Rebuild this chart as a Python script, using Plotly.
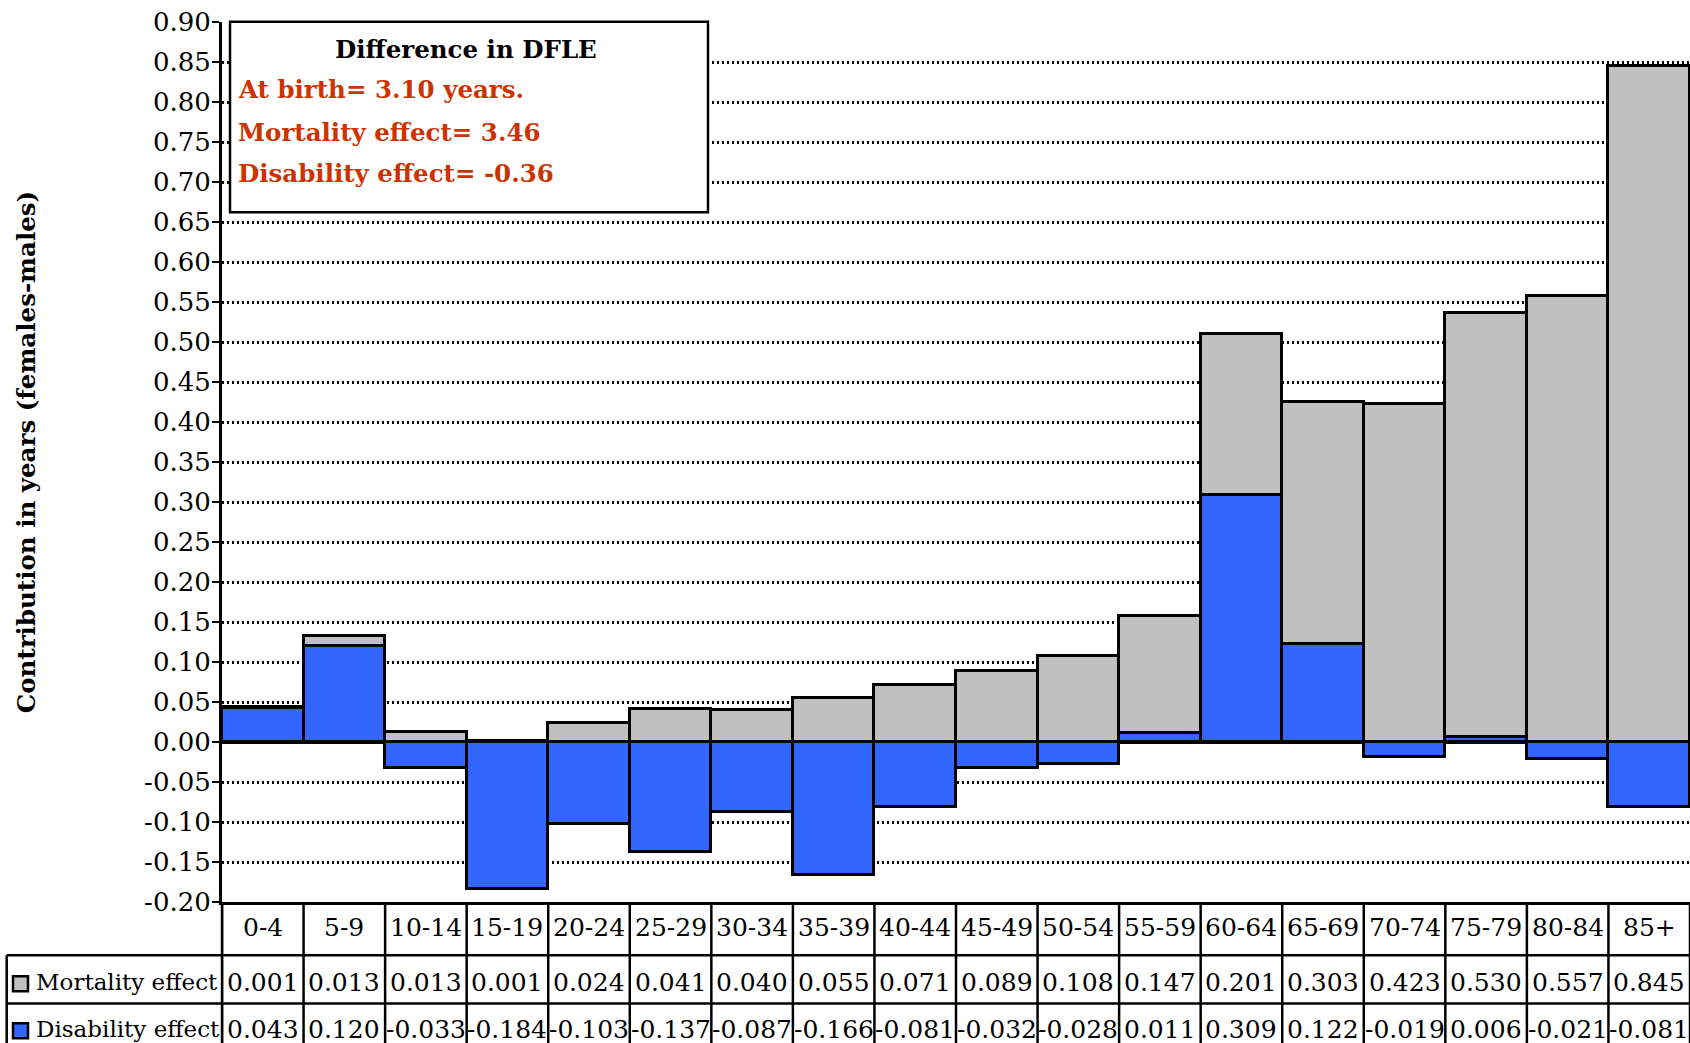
import plotly.graph_objects as go

# Age groups and decomposition of the female-male gap in DFLE (years)
age_groups = ["0-4", "5-9", "10-14", "15-19", "20-24", "25-29", "30-34", "35-39",
              "40-44", "45-49", "50-54", "55-59", "60-64", "65-69", "70-74",
              "75-79", "80-84", "85+"]
mortality_effect = [0.001, 0.013, 0.013, 0.001, 0.024, 0.041, 0.040, 0.055, 0.071,
                    0.089, 0.108, 0.147, 0.201, 0.303, 0.423, 0.530, 0.557, 0.845]
disability_effect = [0.043, 0.120, -0.033, -0.184, -0.103, -0.137, -0.087, -0.166,
                     -0.081, -0.032, -0.028, 0.011, 0.309, 0.122, -0.019, 0.006,
                     -0.021, -0.081]

series_names = ["Mortality effect", "Disability effect"]
y_tick_values = [-0.20, -0.15, -0.10, -0.05, 0.00, 0.05, 0.10, 0.15, 0.20, 0.25,
                 0.30, 0.35, 0.40, 0.45, 0.50, 0.55, 0.60, 0.65, 0.70, 0.75,
                 0.80, 0.85, 0.90]
y_tick_labels = [f"{v:.2f}" for v in y_tick_values]

box_title = "Difference in DFLE"
box_lines = ["At birth= 3.10 years.", "Mortality effect= 3.46", "Disability effect= -0.36"]

GRAY = "#C0C0C0"
BLUE = "#3366FF"
RED = "#CC3300"
SERIF = "DejaVu Serif"

W, H = 1690, 1043
ML, MR, MT, MB = 222, 0, 21.7, 141.3
PW = W - ML - MR
PH = H - MT - MB


def px(x):
    """page pixel column -> paper x"""
    return (x - ML) / PW


def py(y):
    """page pixel row -> paper y"""
    return (H - MB - y) / PH


fig = go.Figure()
# disability first so it sits next to the zero line in relative stacking
fig.add_trace(go.Bar(x=age_groups, y=disability_effect, name=series_names[1],
                     marker=dict(color=BLUE, line=dict(color="black", width=3))))
fig.add_trace(go.Bar(x=age_groups, y=mortality_effect, name=series_names[0],
                     marker=dict(color=GRAY, line=dict(color="black", width=3))))

shapes = []
annotations = []

# ---- data table under the plot ----
ROW1_TOP, ROW2_TOP, ROW3_TOP, TABLE_BOTTOM = 901.7, 955, 1003.3, 1043
TABLE_LEFT = 6.7
line_style = dict(color="black", width=2.5)

for i in range(len(age_groups) + 1):
    shapes.append(dict(type="line", xref="x", yref="paper",
                       x0=i - 0.5, x1=i - 0.5, y0=py(ROW1_TOP), y1=py(TABLE_BOTTOM),
                       line=line_style))
for yy in (ROW2_TOP, ROW3_TOP):
    shapes.append(dict(type="line", xref="paper", yref="paper",
                       x0=px(TABLE_LEFT), x1=1, y0=py(yy), y1=py(yy), line=line_style))
shapes.append(dict(type="line", xref="paper", yref="paper",
                   x0=px(TABLE_LEFT), x1=px(TABLE_LEFT), y0=py(ROW2_TOP), y1=py(TABLE_BOTTOM),
                   line=line_style))
shapes.append(dict(type="line", xref="paper", yref="paper",
                   x0=0, x1=0, y0=py(ROW1_TOP), y1=py(TABLE_BOTTOM), line=line_style))

row_centers = [927, 982, 1029]
value_font = dict(family=SERIF, size=25, color="black")
label_font = dict(family=SERIF, size=23, color="black")


def cell(x, y, text, font, xref="x", xanchor="center"):
    return dict(x=x, y=y, xref=xref, yref="paper", xanchor=xanchor, yanchor="middle",
                text=text, showarrow=False, font=font)


for cat in age_groups:
    annotations.append(cell(cat, py(row_centers[0]), cat, value_font))
for cat, m, d in zip(age_groups, mortality_effect, disability_effect):
    annotations.append(cell(cat, py(row_centers[1]), f"{m:.3f}", value_font))
    annotations.append(cell(cat, py(row_centers[2]), f"{d:.3f}", value_font))

for name, color, yc in ((series_names[0], GRAY, row_centers[1]),
                        (series_names[1], BLUE, row_centers[2])):
    shapes.append(dict(type="rect", xref="paper", yref="paper",
                       x0=px(13), x1=px(28), y0=py(yc - 6), y1=py(yc + 9),
                       fillcolor=color, line=dict(color="black", width=2.5)))
    annotations.append(cell(px(34), py(yc), name, label_font, xref="paper", xanchor="left"))

# ---- summary box ----
shapes.append(dict(type="rect", xref="paper", yref="paper",
                   x0=px(230), x1=px(708), y0=py(21.5), y1=py(212),
                   fillcolor="white", line=dict(color="black", width=2.5), layer="above"))
annotations.append(dict(x=px(466), y=py(49), xref="paper", yref="paper",
                        xanchor="center", yanchor="middle",
                        text=f"<b>{box_title}</b>", showarrow=False,
                        font=dict(family=SERIF, size=24.5, color="black")))
for txt, yc in zip(box_lines, (89, 132, 173)):
    annotations.append(dict(x=px(236), y=py(yc), xref="paper", yref="paper",
                            xanchor="left", yanchor="middle",
                            text=f"<b>{txt}</b>", showarrow=False,
                            font=dict(family=SERIF, size=24.5, color=RED)))

# ---- y-axis title ----
annotations.append(dict(x=px(26), y=py(452), xref="paper", yref="paper",
                        xanchor="center", yanchor="middle",
                        text="<b>Contribution in years (females-males)</b>",
                        textangle=-90, showarrow=False,
                        font=dict(family=SERIF, size=24.5, color="black")))

fig.update_layout(
    width=W, height=H,
    margin=dict(l=ML, r=MR, t=MT, b=MB, pad=0),
    barmode="relative", bargap=0,
    plot_bgcolor="white", paper_bgcolor="white",
    showlegend=False,
    shapes=shapes, annotations=annotations,
    xaxis=dict(range=[-0.5, len(age_groups) - 0.5], showticklabels=False, ticks="",
               showline=True, linecolor="black", linewidth=3, showgrid=False,
               zeroline=False),
    yaxis=dict(range=[-0.20, 0.90], tickvals=y_tick_values, ticktext=y_tick_labels,
               tickfont=dict(family=SERIF, size=26, color="black"),
               ticks="outside", ticklen=7, tickwidth=2, tickcolor="black",
               ticklabelstandoff=-4,
               showline=True, linecolor="black", linewidth=3,
               showgrid=True, gridcolor="black", gridwidth=2.5, griddash="2px,3px",
               zeroline=True, zerolinecolor="black", zerolinewidth=3),
)

fig.write_html("out.html")
